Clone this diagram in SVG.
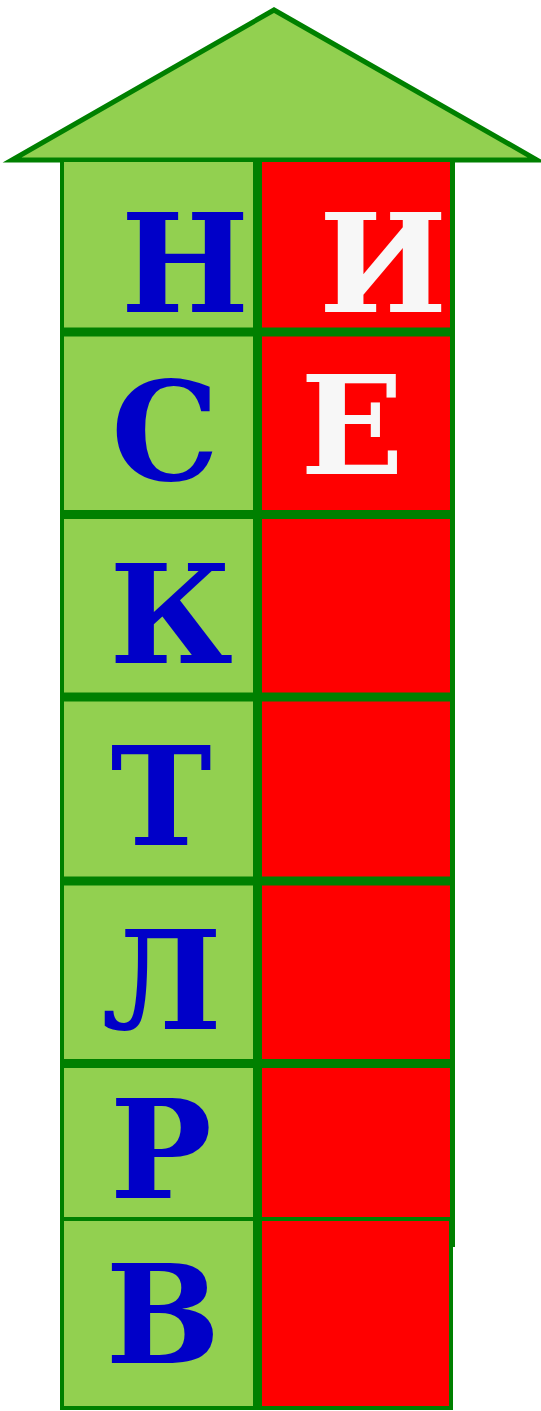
<svg xmlns="http://www.w3.org/2000/svg" width="541" height="1411" viewBox="0 0 541 1411">
<style>
.g{fill:#92D050;stroke:#008000;stroke-width:4}
.r{fill:#FF0000;stroke:#008000;stroke-width:4}
.ln{stroke:#008000;stroke-width:9;fill:none}
.t{font-family:"DejaVu Serif",serif;font-weight:bold;font-size:136px;text-anchor:middle}
.b{fill:#0000C8}
.w{fill:#F7F7F7}
</style>
<g id="roof"><polygon points="274,10 12,160 537,160" fill="#92D050" stroke="#008000" stroke-width="5" stroke-linejoin="miter"/></g>
<g id="cells">
<rect class="g" x="62" y="160" width="193" height="172"/>
<rect class="r" x="258" y="160" width="194" height="172"/>
<rect class="g" x="62" y="332" width="193" height="182"/>
<rect class="r" x="258" y="332" width="194" height="182"/>
<rect class="g" x="62" y="514" width="193" height="183"/>
<rect class="r" x="258" y="514" width="194" height="183"/>
<rect class="g" x="62" y="697" width="193" height="184"/>
<rect class="r" x="258" y="697" width="194" height="184"/>
<rect class="g" x="62" y="881" width="193" height="182"/>
<rect class="r" x="258" y="881" width="194" height="182"/>
<rect class="g" x="62" y="1063" width="193" height="156"/>
<rect class="r" x="258" y="1063" width="194" height="156"/>
<rect class="g" x="62" y="1219" width="193" height="189"/>
<rect class="r" x="257" y="1219" width="194" height="189"/>
</g>
<g id="connectors">
<line class="ln" x1="257.5" y1="160" x2="257.5" y2="1408"/>
<line class="ln" x1="60" y1="332" x2="455" y2="332"/>
<line class="ln" x1="60" y1="514.5" x2="455" y2="514.5"/>
<line class="ln" x1="60" y1="881" x2="455" y2="881"/>
<line class="ln" x1="60" y1="697" x2="455" y2="697"/>
<line class="ln" x1="60" y1="1063.5" x2="455" y2="1063.5"/>
<line x1="453" y1="160" x2="453" y2="1247" stroke="#008000" stroke-width="4"/>
</g>
<g id="letters">
<text class="t b" x="185" y="312">Н</text>
<text class="t w" x="383" y="312">И</text>
<text class="t b" x="165" y="480">С</text>
<text class="t w" x="352" y="474">Е</text>
<text class="t b" x="171" y="663">К</text>
<text class="t b" x="161" y="845">Т</text>
<text class="t b" x="162" y="1029">Л</text>
<text class="t b" x="161" y="1198">Р</text>
<text class="t b" x="163" y="1363">В</text>
</g>
</svg>
